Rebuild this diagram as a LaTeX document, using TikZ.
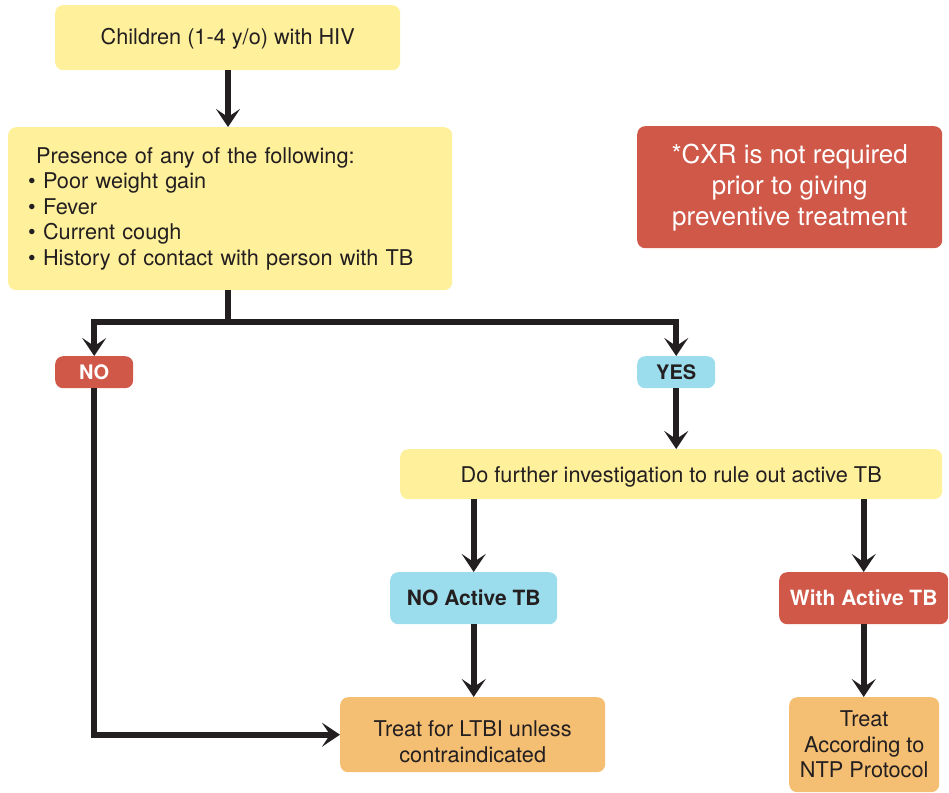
\documentclass[tikz,border=0pt]{standalone}
\usepackage{fontspec}
\setmainfont{TeX Gyre Heros}
\usetikzlibrary{arrows.meta}

\definecolor{ink}{RGB}{35,31,32}
\definecolor{paleyellow}{RGB}{255,240,155}
\definecolor{brickred}{RGB}{207,88,72}
\definecolor{skyblue}{RGB}{155,221,236}
\definecolor{apricot}{RGB}{245,191,115}

\tikzset{
  box/.style={rounded corners=8pt, inner sep=0pt, anchor=north west,
    align=center, text=ink, font=\fontsize{21.7}{25.5}\selectfont},
  yellowbox/.style={box, fill=paleyellow},
  redbox/.style={box, fill=brickred, text=white},
  bluebox/.style={box, fill=skyblue},
  orangebox/.style={box, fill=apricot},
  caption/.style={align=center, text=ink, inner sep=0pt,
    font=\fontsize{21.7}{25.5}\selectfont},
  flow/.style={line width=6pt, draw=ink, line join=miter,
    -{Stealth[length=18pt, width=24pt, inset=8pt]}},
}

\begin{document}
\begin{tikzpicture}[x=1pt, y=-1pt]
\useasboundingbox (0,0) rectangle (949,792);

% boxes
\node[yellowbox, minimum width=345pt, minimum height=65pt,
      text depth=3pt] (top) at (55,5)
  {Children (1-4 y/o) with HIV};

\node[yellowbox, align=left, inner xsep=20pt, text width=404pt,
      minimum height=163pt] (pres) at (8,127)
  {\hspace*{8pt}Presence of any of the following:\\
   • Poor weight gain\\
   • Fever\\
   • Current cough\\
   • History of contact with person with TB};

\node[redbox, minimum width=305pt, minimum height=122pt,
      font=\fontsize{26}{31}\selectfont] (cxr) at (637,126)
  {*CXR is not required\\prior to giving\\preventive treatment};

\node[redbox, minimum width=78pt, minimum height=32pt, font=\fontsize{20}{24}\bfseries] (no) at (55,356) {NO};
\node[bluebox, minimum width=78pt, minimum height=32pt, font=\fontsize{20}{24}\bfseries] (yes) at (637,356) {YES};

\node[yellowbox, minimum width=542pt, minimum height=50pt] (further) at (400,449) {};
\node[caption] (furthertext) at ([yshift=-3pt]further.center)
  {Do further investigation to rule out active TB};

\node[bluebox, minimum width=167pt, minimum height=52pt, font=\fontsize{21}{25}\bfseries] (noactive) at (390,572)
  {NO Active TB};
\node[redbox, minimum width=169pt, minimum height=52pt, font=\fontsize{21}{25}\bfseries] (withactive) at (779,572)
  {With Active TB};

\node[orangebox, minimum width=265pt, minimum height=75pt] (ltbi) at (340,697) {};
\node[caption] (ltbitext) at ([yshift=-7pt]ltbi.center)
  {Treat for LTBI unless\\contraindicated};
\node[orangebox, minimum width=150pt, minimum height=95pt] (ntp) at (789,697)
  {Treat\\According to\\NTP Protocol};

% connectors
\coordinate (split) at (228,322);
\draw[flow] (top.south -| split) -- (pres.north -| split);
\draw[flow] (pres.south -| split) -- (split) -| (no.north);
\draw[flow] (pres.south -| split) -- (split) -| (yes.north);
\draw[flow] (yes.south) -- (further.north -| yes.south);
\draw[flow] (further.south -| noactive.north) -- (noactive.north);
\draw[flow] (further.south -| withactive.north) -- (withactive.north);
\draw[flow] (noactive.south) -- (ltbi.north -| noactive.south);
\draw[flow] (withactive.south) -- (ntp.north -| withactive.south);
\draw[flow] (no.south) |- (ltbi.west);
\end{tikzpicture}
\end{document}
